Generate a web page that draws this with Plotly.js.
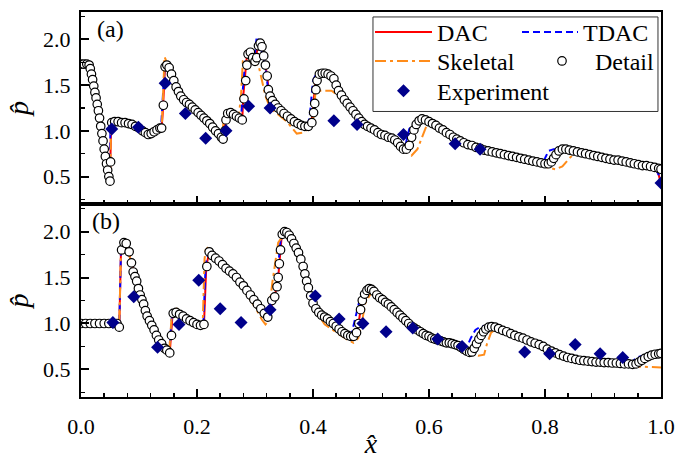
<!DOCTYPE html>
<html>
<head>
<meta charset="utf-8">
<script src="https://cdn.plot.ly/plotly-3.0.1.min.js"></script>
<style>
  html, body { margin: 0; padding: 0; background: #fff; }
  #chart { width: 678px; height: 459px; }
</style>
</head>
<body>
<div id="chart"></div>
<script>
// ---------- panel (a): normalized pressure vs. normalized position ----------
const detailA = [
  [0,1.73],[0.005,1.73],[0.010,1.73],[0.014,1.72],[0.016,1.68],[0.018,1.62],[0.020,1.56],[0.022,1.49],
  [0.024,1.42],[0.026,1.36],[0.028,1.29],[0.030,1.22],[0.032,1.14],[0.034,1.05],[0.036,0.97],[0.038,0.89],
  [0.040,0.80],[0.042,0.72],[0.044,0.64],[0.046,0.57],[0.048,0.50],[0.050,0.45],[0.051,0.66],[0.053,1.09],
  [0.058,1.10],[0.064,1.10],[0.070,1.09],[0.076,1.09],[0.082,1.08],[0.088,1.07],[0.094,1.05],[0.100,1.03],
  [0.106,1.00],[0.111,0.98],[0.116,0.96],[0.121,0.97],[0.126,0.99],[0.131,1.01],[0.136,1.03],[0.139,1.03],
  [0.142,1.28],[0.145,1.70],[0.148,1.72],[0.152,1.69],[0.156,1.62],[0.160,1.55],[0.164,1.48],[0.168,1.43],
  [0.172,1.38],[0.177,1.34],[0.182,1.31],[0.187,1.29],[0.192,1.26],[0.197,1.23],[0.202,1.20],[0.207,1.17],
  [0.212,1.14],[0.217,1.11],[0.222,1.08],[0.227,1.04],[0.232,1.00],[0.237,0.97],[0.242,0.93],[0.245,0.91],
  [0.248,1.00],[0.250,1.12],[0.253,1.19],[0.258,1.20],[0.263,1.18],[0.268,1.16],[0.273,1.14],[0.278,1.12],
  [0.281,1.35],[0.284,1.55],[0.286,1.72],[0.288,1.84],[0.292,1.86],[0.296,1.80],[0.300,1.76],[0.303,1.80],
  [0.306,1.93],[0.309,1.96],[0.312,1.92],[0.315,1.82],[0.318,1.72],[0.321,1.60],[0.323,1.45],[0.326,1.38],
  [0.330,1.33],[0.335,1.29],[0.340,1.25],[0.345,1.22],[0.350,1.19],[0.356,1.16],[0.362,1.13],[0.368,1.10],
  [0.374,1.08],[0.380,1.06],[0.386,1.05],[0.392,1.05],[0.398,1.09],[0.401,1.20],[0.403,1.30],[0.405,1.45],
  [0.407,1.55],[0.411,1.62],[0.416,1.63],[0.421,1.63],[0.426,1.62],[0.431,1.60],[0.436,1.57],[0.440,1.50],
  [0.444,1.44],[0.449,1.39],[0.454,1.34],[0.459,1.30],[0.464,1.26],[0.469,1.22],[0.474,1.18],[0.479,1.14],
  [0.484,1.10],[0.489,1.07],[0.494,1.05],[0.500,1.03],[0.506,1.01],[0.512,0.98],[0.518,0.96],[0.524,0.95],
  [0.530,0.93],[0.536,0.92],[0.541,0.90],[0.546,0.87],[0.551,0.83],[0.556,0.80],[0.561,0.80],[0.566,0.84],
  [0.570,0.93],[0.574,1.01],[0.578,1.07],[0.583,1.11],[0.588,1.13],[0.594,1.12],[0.600,1.10],[0.606,1.08],
  [0.612,1.06],[0.618,1.03],[0.624,1.01],[0.630,0.98],[0.636,0.96],[0.642,0.93],[0.648,0.91],[0.654,0.89],
  [0.660,0.87],[0.667,0.85],[0.674,0.84],[0.681,0.82],[0.688,0.81],[0.695,0.79],[0.702,0.78],[0.709,0.77],
  [0.716,0.76],[0.723,0.75],[0.730,0.74],[0.737,0.73],[0.744,0.72],[0.751,0.71],[0.758,0.70],[0.765,0.69],
  [0.772,0.68],[0.779,0.67],[0.786,0.66],[0.793,0.65],[0.800,0.64],[0.806,0.64],[0.811,0.66],[0.815,0.70],
  [0.819,0.74],[0.824,0.78],[0.830,0.80],[0.836,0.80],[0.842,0.79],[0.849,0.78],[0.856,0.77],[0.863,0.76],
  [0.870,0.75],[0.877,0.74],[0.884,0.73],[0.891,0.72],[0.898,0.71],[0.905,0.70],[0.912,0.69],[0.919,0.68],
  [0.926,0.68],[0.933,0.67],[0.940,0.66],[0.947,0.65],[0.954,0.64],[0.961,0.63],[0.968,0.62],[0.975,0.62],
  [0.982,0.61],[0.989,0.60],[0.996,0.59],[1.0,0.58]
];

const dacA = [
  [0,1.73],[0.014,1.72],[0.020,1.56],[0.026,1.36],[0.032,1.14],[0.038,0.89],[0.044,0.64],[0.050,0.45],
  [0.052,1.09],[0.064,1.10],[0.082,1.08],[0.100,1.03],[0.116,0.96],[0.131,1.01],[0.139,1.03],[0.141,1.20],
  [0.145,1.72],[0.156,1.62],[0.168,1.43],[0.182,1.31],[0.197,1.23],[0.222,1.08],[0.242,0.93],[0.245,0.91],
  [0.248,1.05],[0.252,1.19],[0.263,1.18],[0.278,1.12],[0.280,1.40],[0.286,1.82],[0.292,1.85],[0.298,1.76],
  [0.302,1.82],[0.306,1.97],[0.311,1.92],[0.316,1.78],[0.321,1.60],[0.324,1.42],[0.330,1.33],[0.345,1.22],
  [0.362,1.13],[0.380,1.06],[0.394,1.05],[0.398,1.12],[0.404,1.52],[0.410,1.62],[0.426,1.62],[0.436,1.57],
  [0.444,1.44],[0.464,1.26],[0.484,1.10],[0.500,1.03],[0.530,0.93],[0.546,0.87],[0.556,0.80],[0.562,0.81],
  [0.568,0.90],[0.575,1.03],[0.583,1.11],[0.590,1.13],[0.612,1.06],[0.642,0.93],[0.674,0.84],[0.716,0.76],
  [0.758,0.70],[0.800,0.64],[0.807,0.64],[0.812,0.68],[0.820,0.76],[0.830,0.80],[0.860,0.76],[0.905,0.70],
  [0.947,0.65],[0.990,0.60],[0.996,0.52],[1.0,0.42]
];

const tdacA = [
  [0,1.73],[0.014,1.72],[0.020,1.56],[0.026,1.36],[0.032,1.14],[0.038,0.89],[0.044,0.64],[0.049,0.47],
  [0.051,1.09],[0.064,1.10],[0.082,1.08],[0.100,1.03],[0.116,0.96],[0.131,1.01],[0.138,1.03],[0.140,1.25],
  [0.144,1.70],[0.156,1.62],[0.168,1.43],[0.182,1.31],[0.197,1.23],[0.222,1.08],[0.242,0.93],[0.244,0.92],
  [0.247,1.10],[0.251,1.20],[0.263,1.18],[0.276,1.13],[0.279,1.45],[0.284,1.84],[0.291,1.86],[0.297,1.76],
  [0.300,1.85],[0.303,2.03],[0.309,1.93],[0.315,1.80],[0.320,1.60],[0.323,1.42],[0.330,1.33],[0.345,1.22],
  [0.362,1.13],[0.380,1.06],[0.391,1.05],[0.395,1.20],[0.400,1.55],[0.406,1.63],[0.426,1.62],[0.436,1.57],
  [0.444,1.44],[0.464,1.26],[0.484,1.10],[0.500,1.03],[0.530,0.93],[0.546,0.87],[0.555,0.82],[0.560,0.86],
  [0.566,1.02],[0.573,1.08],[0.583,1.11],[0.590,1.13],[0.612,1.06],[0.642,0.93],[0.674,0.84],[0.716,0.76],
  [0.758,0.70],[0.795,0.65],[0.800,0.70],[0.806,0.78],[0.815,0.80],[0.830,0.80],[0.860,0.76],[0.905,0.70],
  [0.947,0.65],[0.990,0.60],[0.996,0.52],[1.0,0.40]
];

const skeletalA = [
  [0,1.73],[0.014,1.72],[0.020,1.56],[0.026,1.36],[0.032,1.14],[0.038,0.89],[0.044,0.64],[0.050,0.47],
  [0.052,1.08],[0.064,1.10],[0.082,1.08],[0.100,1.03],[0.116,0.96],[0.131,1.00],[0.139,1.02],[0.141,1.30],
  [0.144,1.81],[0.150,1.72],[0.160,1.58],[0.170,1.46],[0.178,1.37],[0.190,1.30],[0.210,1.16],[0.230,1.02],
  [0.243,0.92],[0.246,1.12],[0.250,1.18],[0.262,1.17],[0.272,1.15],[0.276,1.40],[0.279,1.76],[0.290,1.76],
  [0.300,1.74],[0.306,1.72],[0.312,1.55],[0.318,1.38],[0.326,1.25],[0.340,1.18],[0.355,1.10],[0.372,0.97],
  [0.382,0.98],[0.392,1.02],[0.400,1.10],[0.404,1.40],[0.410,1.44],[0.432,1.44],[0.440,1.40],[0.450,1.35],
  [0.470,1.20],[0.490,1.06],[0.510,0.99],[0.530,0.93],[0.550,0.84],[0.560,0.78],[0.570,0.73],[0.580,0.80],
  [0.590,0.96],[0.596,1.06],[0.605,1.07],[0.630,0.97],[0.660,0.86],[0.700,0.78],[0.750,0.70],[0.790,0.64],
  [0.805,0.60],[0.818,0.58],[0.830,0.61],[0.842,0.70],[0.852,0.76],[0.880,0.73],[0.920,0.68],[0.960,0.63],
  [0.990,0.60],[1.0,0.57]
];

const experimentA = [
  [0.053,1.02],[0.099,1.04],[0.145,1.52],[0.180,1.19],[0.215,0.92],[0.250,1.00],[0.289,1.27],
  [0.326,1.25],[0.436,1.11],[0.476,1.07],[0.556,0.96],[0.645,0.86],[0.688,0.80],[1.0,0.43]
];

// ---------- panel (b) ----------
const detailB = [
  [0,1.00],[0.008,1.00],[0.016,1.00],[0.024,1.00],[0.032,1.00],[0.040,1.00],[0.048,1.00],[0.056,1.00],
  [0.062,1.00],[0.066,0.96],[0.070,1.80],[0.074,1.88],[0.078,1.87],[0.083,1.78],[0.087,1.66],[0.090,1.56],
  [0.093,1.51],[0.096,1.46],[0.099,1.38],[0.102,1.31],[0.105,1.26],[0.108,1.21],[0.111,1.14],[0.114,1.08],
  [0.118,1.03],[0.122,0.98],[0.126,0.93],[0.130,0.87],[0.134,0.82],[0.139,0.78],[0.144,0.73],[0.148,0.71],
  [0.153,0.68],[0.156,0.87],[0.159,1.11],[0.164,1.12],[0.170,1.10],[0.176,1.08],[0.182,1.05],[0.188,1.03],
  [0.194,1.01],[0.200,0.99],[0.206,0.98],[0.212,0.99],[0.217,1.62],[0.221,1.78],[0.226,1.74],[0.232,1.71],
  [0.238,1.68],[0.244,1.64],[0.250,1.60],[0.256,1.57],[0.262,1.54],[0.268,1.50],[0.274,1.45],[0.280,1.41],
  [0.286,1.36],[0.292,1.31],[0.298,1.26],[0.304,1.21],[0.310,1.16],[0.316,1.11],[0.322,1.07],[0.329,1.25],
  [0.334,1.29],[0.338,1.40],[0.340,1.50],[0.342,1.65],[0.344,1.80],[0.347,1.97],[0.351,2.00],[0.355,1.99],
  [0.359,1.96],[0.363,1.92],[0.367,1.87],[0.371,1.82],[0.375,1.77],[0.379,1.70],[0.383,1.62],[0.386,1.54],
  [0.389,1.46],[0.392,1.39],[0.396,1.30],[0.400,1.22],[0.405,1.16],[0.410,1.12],[0.415,1.09],[0.420,1.07],
  [0.425,1.05],[0.430,1.02],[0.435,1.00],[0.440,0.97],[0.445,0.94],[0.450,0.91],[0.455,0.89],[0.460,0.87],
  [0.465,0.86],[0.470,0.86],[0.475,0.90],[0.479,1.00],[0.482,1.15],[0.485,1.25],[0.489,1.32],[0.493,1.36],
  [0.497,1.38],[0.501,1.37],[0.505,1.35],[0.510,1.31],[0.515,1.28],[0.520,1.26],[0.525,1.23],[0.530,1.21],
  [0.535,1.18],[0.540,1.15],[0.545,1.12],[0.550,1.09],[0.555,1.06],[0.560,1.03],[0.565,1.00],[0.570,0.97],
  [0.575,0.95],[0.580,0.93],[0.585,0.91],[0.590,0.89],[0.595,0.87],[0.600,0.86],[0.605,0.84],[0.610,0.83],
  [0.615,0.82],[0.620,0.81],[0.625,0.80],[0.630,0.79],[0.635,0.79],[0.640,0.78],[0.645,0.77],[0.650,0.76],
  [0.655,0.74],[0.660,0.72],[0.665,0.70],[0.670,0.685],[0.674,0.69],[0.678,0.73],[0.682,0.78],[0.686,0.83],
  [0.690,0.87],[0.694,0.91],[0.698,0.94],[0.703,0.96],[0.708,0.965],[0.714,0.96],[0.720,0.945],[0.727,0.925],
  [0.734,0.91],[0.741,0.89],[0.748,0.87],[0.755,0.855],[0.762,0.84],[0.769,0.82],[0.776,0.80],[0.783,0.785],
  [0.790,0.77],[0.797,0.75],[0.804,0.72],[0.811,0.70],[0.818,0.68],[0.825,0.66],[0.832,0.645],[0.839,0.63],
  [0.846,0.62],[0.853,0.61],[0.860,0.60],[0.867,0.595],[0.874,0.59],[0.881,0.585],[0.888,0.58],[0.895,0.58],
  [0.902,0.575],[0.909,0.575],[0.916,0.57],[0.923,0.57],[0.930,0.565],[0.937,0.56],[0.944,0.56],[0.951,0.555],
  [0.957,0.56],[0.962,0.58],[0.967,0.60],[0.972,0.62],[0.978,0.64],[0.984,0.655],[0.990,0.665],[0.996,0.67],
  [1.0,0.675]
];

const dacB = [
  [0,1.00],[0.062,1.00],[0.066,0.96],[0.069,1.80],[0.074,1.88],[0.078,1.87],[0.087,1.66],[0.096,1.46],
  [0.105,1.26],[0.114,1.08],[0.126,0.93],[0.139,0.78],[0.148,0.71],[0.153,0.68],[0.158,1.11],[0.164,1.12],
  [0.182,1.05],[0.200,0.99],[0.212,0.99],[0.216,1.62],[0.221,1.78],[0.232,1.71],[0.256,1.57],[0.280,1.41],
  [0.304,1.21],[0.322,1.07],[0.326,1.15],[0.334,1.29],[0.340,1.50],[0.346,1.95],[0.351,2.00],[0.359,1.96],
  [0.371,1.82],[0.383,1.62],[0.392,1.39],[0.400,1.22],[0.410,1.12],[0.425,1.05],[0.445,0.94],[0.465,0.86],
  [0.472,0.86],[0.478,0.97],[0.483,1.20],[0.489,1.32],[0.497,1.38],[0.510,1.31],[0.540,1.15],[0.570,0.97],
  [0.600,0.86],[0.640,0.78],[0.660,0.72],[0.670,0.685],[0.676,0.70],[0.684,0.80],[0.694,0.91],[0.705,0.965],
  [0.727,0.925],[0.769,0.82],[0.811,0.70],[0.846,0.62],[0.895,0.58],[0.951,0.555],[0.962,0.58],[0.978,0.64],
  [1.0,0.675]
];

const tdacB = [
  [0,1.00],[0.062,1.00],[0.066,0.97],[0.069,1.82],[0.074,1.88],[0.078,1.87],[0.087,1.66],[0.096,1.46],
  [0.105,1.26],[0.114,1.08],[0.126,0.93],[0.139,0.78],[0.148,0.71],[0.152,0.69],[0.157,1.10],[0.164,1.12],
  [0.182,1.05],[0.200,0.99],[0.211,0.99],[0.215,1.65],[0.220,1.78],[0.232,1.71],[0.256,1.57],[0.280,1.41],
  [0.304,1.21],[0.321,1.07],[0.326,1.18],[0.334,1.30],[0.339,1.55],[0.345,1.97],[0.350,2.00],[0.359,1.96],
  [0.371,1.82],[0.383,1.62],[0.392,1.39],[0.400,1.22],[0.410,1.12],[0.425,1.05],[0.445,0.94],[0.462,0.87],
  [0.467,0.90],[0.473,1.05],[0.479,1.22],[0.487,1.33],[0.497,1.38],[0.510,1.31],[0.540,1.15],[0.570,0.97],
  [0.600,0.86],[0.640,0.78],[0.658,0.73],[0.665,0.74],[0.672,0.84],[0.680,0.93],[0.690,0.97],[0.705,0.965],
  [0.727,0.925],[0.769,0.82],[0.811,0.70],[0.846,0.62],[0.895,0.58],[0.944,0.56],[0.950,0.58],[0.958,0.63],
  [0.968,0.65],[0.984,0.66],[1.0,0.675]
];

const skeletalB = [
  [0,1.00],[0.062,1.00],[0.066,0.98],[0.069,1.84],[0.075,1.86],[0.080,1.82],[0.090,1.58],[0.100,1.36],
  [0.110,1.16],[0.120,1.00],[0.132,0.85],[0.142,0.75],[0.152,0.68],[0.157,1.14],[0.165,1.16],[0.180,1.07],
  [0.200,1.01],[0.210,1.01],[0.213,1.70],[0.216,1.84],[0.226,1.76],[0.245,1.62],[0.265,1.48],[0.285,1.32],
  [0.300,1.18],[0.312,1.04],[0.318,0.99],[0.322,1.02],[0.330,1.45],[0.340,1.88],[0.350,1.97],[0.360,1.93],
  [0.372,1.80],[0.384,1.58],[0.394,1.30],[0.404,1.14],[0.420,0.99],[0.440,0.90],[0.460,0.82],[0.470,0.79],
  [0.478,0.84],[0.484,1.00],[0.490,1.22],[0.500,1.33],[0.510,1.30],[0.540,1.12],[0.570,0.94],[0.600,0.83],
  [0.640,0.75],[0.670,0.68],[0.685,0.65],[0.695,0.66],[0.700,0.78],[0.707,0.90],[0.715,0.94],[0.730,0.91],
  [0.770,0.80],[0.810,0.68],[0.850,0.60],[0.900,0.56],[0.940,0.53],[0.970,0.53],[1.0,0.52]
];

const experimentB = [
  [0.055,1.01],[0.091,1.29],[0.132,0.74],[0.169,0.99],[0.203,1.47],[0.240,1.16],[0.276,1.01],
  [0.326,1.15],[0.404,1.30],[0.445,1.05],[0.486,1.00],[0.526,0.91],[0.572,0.95],[0.615,0.83],
  [0.657,0.75],[0.765,0.69],[0.808,0.67],[0.852,0.77],[0.895,0.67],[0.934,0.63]
];

const xTickLabels = ['0.0', '0.2', '0.4', '0.6', '0.8', '1.0'];
const xTickValues = [0, 0.2, 0.4, 0.6, 0.8, 1.0];
const yTickLabels = ['0.5', '1.0', '1.5', '2.0'];
const yTickValues = [0.5, 1.0, 1.5, 2.0];

// ---------- styling ----------
const SERIF = 'Liberation Serif';
const colDAC = '#ff0000';
const colTDAC = '#0000ff';
const colSkel = '#ff8c1a';
const colExp = '#00008b';

const xs = pts => pts.map(p => p[0]);
const ys = pts => pts.map(p => p[1]);

// each legend entry sits in its own legend box so the two-column grid can be placed freely
function panelTraces(xa, ya, dac, tdac, skel, detail, exp, withLegend) {
  return [
    { x: xs(dac), y: ys(dac), xaxis: xa, yaxis: ya, mode: 'lines', name: 'DAC',
      line: { color: colDAC, width: 2 }, showlegend: withLegend, legend: 'legend' },
    { x: xs(tdac), y: ys(tdac), xaxis: xa, yaxis: ya, mode: 'lines', name: 'TDAC',
      line: { color: colTDAC, width: 2, dash: '7px,4px' }, showlegend: withLegend, legend: 'legend2' },
    { x: xs(skel), y: ys(skel), xaxis: xa, yaxis: ya, mode: 'lines', name: 'Skeletal',
      line: { color: colSkel, width: 2, dash: '11px,4px,3px,4px' }, showlegend: withLegend, legend: 'legend3' },
    { x: xs(detail), y: ys(detail), xaxis: xa, yaxis: ya, mode: 'markers', name: 'Detail',
      marker: { symbol: 'circle', size: 8.5, color: '#ffffff', line: { color: '#000000', width: 1.2 } },
      showlegend: withLegend, legend: 'legend4' },
    { x: xs(exp), y: ys(exp), xaxis: xa, yaxis: ya, mode: 'markers', name: 'Experiment',
      marker: { symbol: 'diamond', size: 10, color: colExp, line: { width: 0 } },
      showlegend: withLegend, legend: 'legend5' }
  ];
}

const traces = [
  ...panelTraces('x', 'y', dacA, tdacA, skeletalA, detailA, experimentA, true),
  ...panelTraces('x2', 'y2', dacB, tdacB, skeletalB, detailB, experimentB, false)
];

const split = 0.5013;

const xBase = {
  range: [0, 1], tickvals: xTickValues, ticktext: xTickLabels,
  ticks: 'inside', ticklen: 8, tickwidth: 2, tickcolor: '#000',
  minor: { dtick: 0.04, tick0: 0, ticks: 'inside', ticklen: 4, tickwidth: 1.5, tickcolor: '#000' },
  showline: true, linewidth: 2, linecolor: '#000', mirror: true,
  showgrid: false, zeroline: false,
  tickfont: { family: SERIF, size: 22, color: '#000' }
};
const yBase = {
  range: [0.2, 2.3], tickvals: yTickValues, ticktext: yTickLabels,
  ticks: 'inside', ticklen: 8, tickwidth: 2, tickcolor: '#000',
  minor: { dtick: 0.25, tick0: 0, ticks: 'inside', ticklen: 4, tickwidth: 1.5, tickcolor: '#000' },
  showline: true, linewidth: 2, linecolor: '#000', mirror: true,
  showgrid: false, zeroline: false,
  ticklabelstandoff: 4,
  tickfont: { family: SERIF, size: 22, color: '#000' },
  title: { text: '<i>p\u0302</i>', font: { family: SERIF, size: 28, color: '#000' }, standoff: 6 }
};

function legendBox(xPx, rowCenterPx, itemwidth) {
  return {
    x: (xPx - 81) / 580, y: (397 - (rowCenterPx - 25)) / 387,
    xanchor: 'left', yanchor: 'top',
    bgcolor: 'rgba(0,0,0,0)', borderwidth: 0, itemwidth: itemwidth,
    font: { family: SERIF, size: 24, color: '#000' }
  };
}

const layout = {
  width: 678, height: 459,
  margin: { l: 81, r: 17, t: 10, b: 62 },
  paper_bgcolor: '#fff', plot_bgcolor: '#fff',
  font: { family: SERIF, color: '#000' },
  xaxis: Object.assign({}, xBase, { anchor: 'y', domain: [0, 1], showticklabels: false }),
  yaxis: Object.assign({}, yBase, { anchor: 'x', domain: [split, 1] }),
  xaxis2: Object.assign({}, xBase, {
    anchor: 'y2', domain: [0, 1], ticklabelstandoff: 9,
    title: { text: '<i>x\u0302</i>', font: { family: SERIF, size: 28, color: '#000' }, standoff: 3 }
  }),
  yaxis2: Object.assign({}, yBase, { anchor: 'x2', domain: [0, split] }),
  legend:  legendBox(370, 33, 57),
  legend2: legendBox(517, 33, 56),
  legend3: legendBox(370, 62, 57),
  legend4: legendBox(529, 62, 56),
  legend5: legendBox(370, 92, 57),
  shapes: [
    { type: 'rect', xref: 'paper', yref: 'paper', x0: 0.5034, x1: 0.9948, y0: 0.7416, y1: 0.9871,
      line: { color: '#333', width: 1 }, fillcolor: 'rgba(0,0,0,0)', layer: 'above' }
  ],
  annotations: [
    { text: '(a)', xref: 'paper', yref: 'paper', x: 0.0241, y: 0.956, xanchor: 'left', yanchor: 'middle',
      showarrow: false, font: { family: SERIF, size: 24, color: '#000' } },
    { text: '(b)', xref: 'paper', yref: 'paper', x: 0.0155, y: 0.457, xanchor: 'left', yanchor: 'middle',
      showarrow: false, font: { family: SERIF, size: 24, color: '#000' } }
  ]
};

function draw() {
  Plotly.newPlot('chart', traces, layout, { staticPlot: true, displayModeBar: false });
}
// make sure the serif face is ready before the text is measured and laid out
if (document.fonts && document.fonts.load) {
  Promise.all([
    document.fonts.load('22px "Liberation Serif"'),
    document.fonts.load('italic 28px "Liberation Serif"')
  ]).then(draw, draw);
} else {
  draw();
}
</script>
</body>
</html>
